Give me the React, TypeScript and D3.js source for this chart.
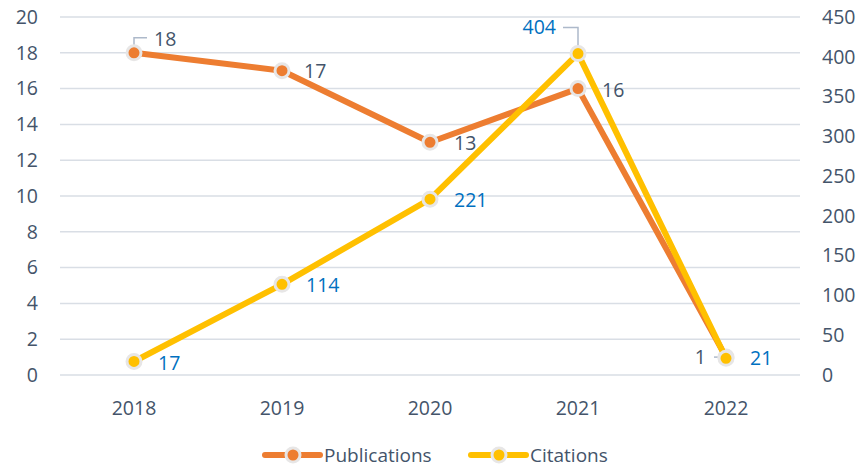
import React from "react";
import * as d3 from "d3";

const years = ["2018", "2019", "2020", "2021", "2022"];
const publications = [18, 17, 13, 16, 1];
const citations = [17, 114, 221, 404, 21];
const leftTicks = [0, 2, 4, 6, 8, 10, 12, 14, 16, 18, 20];
const rightTicks = [0, 50, 100, 150, 200, 250, 300, 350, 400, 450];

const W = 861;
const H = 469;
const margin = { top: 17, right: 61, bottom: 94, left: 60 };
const FONT = "'Open Sans', 'Liberation Sans', sans-serif";
const FS = 19.5;
const TEXT = "#44546A";
const ORANGE = "#ED7D31";
const YELLOW = "#FFC000";

const App = () => {
  const svgRef = React.useRef<SVGSVGElement>(null);

  React.useEffect(() => {
    const width = W - margin.left - margin.right;
    const height = H - margin.top - margin.bottom;

    const x = d3.scaleBand().domain(years).range([0, width]);
    const yL = d3.scaleLinear().domain([0, 20]).range([height, 0]);
    const yR = d3.scaleLinear().domain([0, 450]).range([height, 0]);
    const cx = (d: string) => (x(d) as number) + x.bandwidth() / 2;

    const svgEl = d3.select(svgRef.current);
    svgEl.selectAll("*").remove();
    const svg = svgEl
      .append("g")
      .attr("transform", `translate(${margin.left},${margin.top})`);

    // grid lines
    svg
      .selectAll(".grid")
      .data(leftTicks)
      .enter()
      .append("line")
      .attr("x1", 0)
      .attr("x2", width)
      .attr("y1", (d) => yL(d))
      .attr("y2", (d) => yL(d))
      .attr("stroke", "#D9DEE5")
      .attr("stroke-width", 1.5);

    // left axis labels
    svg
      .selectAll(".lt")
      .data(leftTicks)
      .enter()
      .append("text")
      .attr("x", -22)
      .attr("y", (d) => yL(d))
      .attr("dy", "0.35em")
      .attr("text-anchor", "end")
      .attr("font-family", FONT)
      .attr("font-size", FS)
      .attr("fill", TEXT)
      .text((d) => d);

    // right axis labels
    svg
      .selectAll(".rt")
      .data(rightTicks)
      .enter()
      .append("text")
      .attr("x", width + 22)
      .attr("y", (d) => yR(d))
      .attr("dy", "0.35em")
      .attr("text-anchor", "start")
      .attr("font-family", FONT)
      .attr("font-size", FS)
      .attr("fill", TEXT)
      .text((d) => d);

    // x labels
    svg
      .selectAll(".xt")
      .data(years)
      .enter()
      .append("text")
      .attr("x", (d) => cx(d))
      .attr("y", height + 33)
      .attr("dy", "0.35em")
      .attr("text-anchor", "middle")
      .attr("font-family", FONT)
      .attr("font-size", FS)
      .attr("fill", TEXT)
      .text((d) => d);

    const pubLine = d3
      .line<number>()
      .x((_, i) => cx(years[i]))
      .y((d) => yL(d));
    const citLine = d3
      .line<number>()
      .x((_, i) => cx(years[i]))
      .y((d) => yR(d));

    // leader lines
    const leader = (pts: [number, number][]) =>
      svg
        .append("path")
        .attr("d", d3.line()(pts))
        .attr("fill", "none")
        .attr("stroke", "#ADB9CA")
        .attr("stroke-width", 1.5);
    leader([
      [cx("2018"), yL(18)],
      [cx("2018"), yL(18) - 15],
      [cx("2018") + 13, yL(18) - 15],
    ]);
    leader([
      [cx("2021"), yR(404)],
      [cx("2021"), yR(404) - 26],
      [cx("2021") - 15, yR(404) - 26],
    ]);
    leader([
      [cx("2022") - 12, yL(1)],
      [cx("2022"), yL(1)],
    ]);

    svg
      .append("path")
      .datum(publications)
      .attr("d", pubLine)
      .attr("fill", "none")
      .attr("stroke", ORANGE)
      .attr("stroke-width", 6)
      .attr("stroke-linejoin", "round");

    svg
      .selectAll(".pm")
      .data(publications)
      .enter()
      .append("circle")
      .attr("cx", (_, i) => cx(years[i]))
      .attr("cy", (d) => yL(d))
      .attr("r", 7)
      .attr("fill", ORANGE)
      .attr("stroke", "#E7E6E6")
      .attr("stroke-width", 3);

    svg
      .append("path")
      .datum(citations)
      .attr("d", citLine)
      .attr("fill", "none")
      .attr("stroke", YELLOW)
      .attr("stroke-width", 6)
      .attr("stroke-linejoin", "round");

    svg
      .selectAll(".cm")
      .data(citations)
      .enter()
      .append("circle")
      .attr("cx", (_, i) => cx(years[i]))
      .attr("cy", (d) => yR(d))
      .attr("r", 7)
      .attr("fill", YELLOW)
      .attr("stroke", "#E7E6E6")
      .attr("stroke-width", 3);

    // data labels
    const pubOffsets: [number, number, string][] = [
      [20, -14, "start"],
      [22, 0, "start"],
      [24, 1, "start"],
      [24, 2, "start"],
      [-20, 0, "end"],
    ];
    const citOffsets: [number, number, string][] = [
      [24, 2, "start"],
      [24, 1, "start"],
      [24, 1, "start"],
      [-22, -26, "end"],
      [24, 0, "start"],
    ];
    svg
      .selectAll(".pl")
      .data(publications)
      .enter()
      .append("text")
      .attr("x", (_, i) => cx(years[i]) + pubOffsets[i][0])
      .attr("y", (d, i) => yL(d) + pubOffsets[i][1])
      .attr("dy", "0.35em")
      .attr("text-anchor", (_, i) => pubOffsets[i][2])
      .attr("font-family", FONT)
      .attr("font-size", FS)
      .attr("fill", TEXT)
      .text((d) => d);
    svg
      .selectAll(".cl")
      .data(citations)
      .enter()
      .append("text")
      .attr("x", (_, i) => cx(years[i]) + citOffsets[i][0])
      .attr("y", (d, i) => yR(d) + citOffsets[i][1])
      .attr("dy", "0.35em")
      .attr("text-anchor", (_, i) => citOffsets[i][2])
      .attr("font-family", FONT)
      .attr("font-size", FS)
      .attr("fill", "#0070C0")
      .text((d) => d);

    // legend
    const legend = svgEl.append("g").attr("transform", `translate(0, 455)`);
    const items = [
      { name: "Publications", color: ORANGE, x: 265 },
      { name: "Citations", color: YELLOW, x: 471 },
    ];
    items.forEach((it) => {
      legend
        .append("line")
        .attr("x1", it.x)
        .attr("x2", it.x + 55)
        .attr("y1", 0)
        .attr("y2", 0)
        .attr("stroke", it.color)
        .attr("stroke-width", 6)
        .attr("stroke-linecap", "round");
      legend
        .append("circle")
        .attr("cx", it.x + 28)
        .attr("cy", 0)
        .attr("r", 7)
        .attr("fill", it.color)
        .attr("stroke", "#E7E6E6")
        .attr("stroke-width", 3);
      legend
        .append("text")
        .attr("x", it.x + 59)
        .attr("y", 0)
        .attr("dy", "0.35em")
        .attr("font-family", FONT)
        .attr("font-size", 19)
        .attr("fill", TEXT)
        .text(it.name);
    });
  }, []);

  return (
    <svg
      ref={svgRef}
      width={W}
      height={H}
      style={{ position: "absolute", left: 0, top: 0, background: "#fff" }}
    />
  );
};

export default App;
